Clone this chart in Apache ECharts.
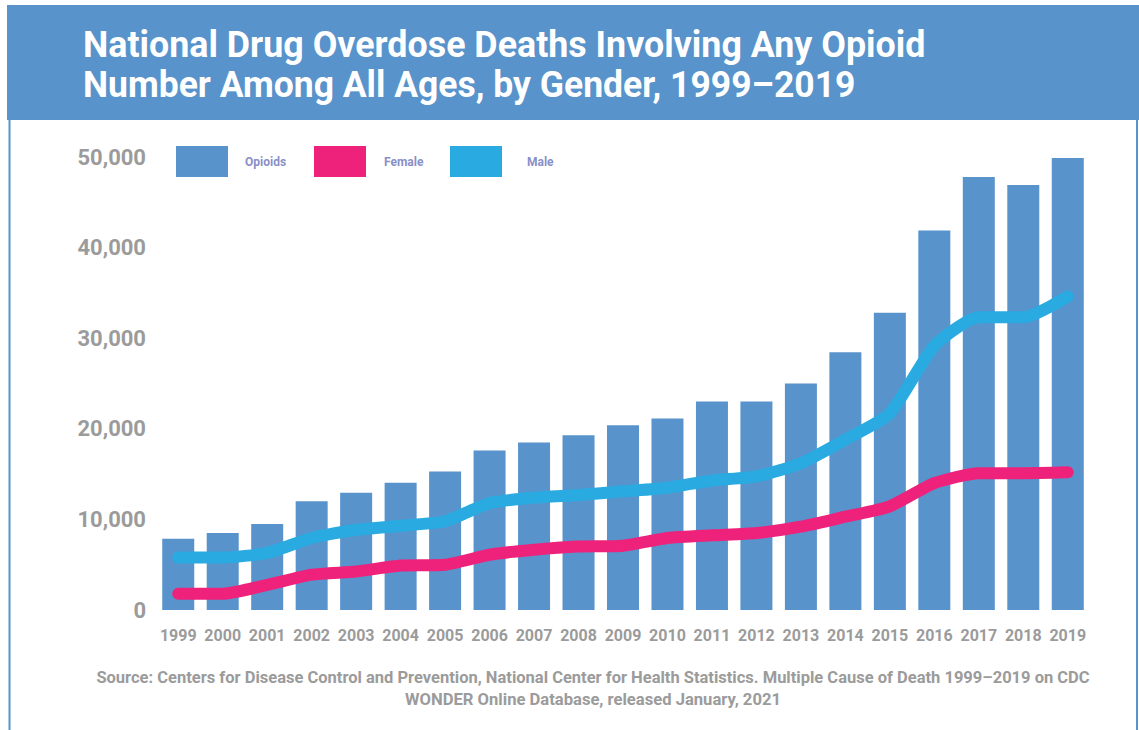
<!DOCTYPE html>
<html>
<head>
<meta charset="utf-8">
<script src="https://cdn.jsdelivr.net/npm/echarts@6/dist/echarts.min.js"></script>
<style>
html,body{margin:0;padding:0;background:#fff;}
#chart{width:1139px;height:730px;}
</style>
</head>
<body>
<div id="chart"></div>
<script>
const titleLines = ['National Drug Overdose Deaths Involving Any Opioid', 'Number Among All Ages, by Gender, 1999\u20132019'];
const sourceLines = ['Source: Centers for Disease Control and Prevention, National Center for Health Statistics. Multiple Cause of Death 1999\u20132019 on CDC', 'WONDER Online Database, released January, 2021'];
const years = ['1999','2000','2001','2002','2003','2004','2005','2006','2007','2008','2009','2010','2011','2012','2013','2014','2015','2016','2017','2018','2019'];
const opioids = [7860, 8500, 9500, 12000, 12950, 14050, 15300, 17600, 18500, 19300, 20400, 21150, 23000, 23000, 25000, 28450, 32800, 41900, 47800, 46900, 49900];
const female = [1800, 1800, 2770, 3900, 4250, 4900, 5000, 6100, 6650, 7000, 7100, 7950, 8250, 8500, 9200, 10300, 11450, 14000, 15100, 15100, 15200];
const male = [5800, 5800, 6300, 7950, 8850, 9300, 9800, 11800, 12400, 12700, 13100, 13500, 14300, 14750, 16200, 18800, 21700, 29150, 32300, 32300, 34600];
const yTicks = [0, 10000, 20000, 30000, 40000, 50000];

const BLUE = '#5893CB', PINK = '#EE227B', CYAN = '#29ABE2', GRAY = '#9B9B9B', LEG = '#8A8FC8';
const FONT = 'Roboto';

const chart = echarts.init(document.getElementById('chart'), null, {renderer: 'svg'});

function legendFor(name, left, pad) {
  return {
    data: [name], left: left, top: 146, padding: 0, orient: 'horizontal',
    icon: 'rect', itemWidth: 52, itemHeight: 31, selectedMode: false,
    textStyle: {color: LEG, fontFamily: FONT, fontWeight: 'bold', fontSize: 12, padding: [0, 0, 0, pad]}
  };
}

chart.setOption({
  animation: false,
  backgroundColor: '#fff',
  legend: [legendFor('Opioids', 176, 12), legendFor('Female', 314, 13), legendFor('Male', 450, 20)],
  grid: {left: 156, right: 49, top: 157, bottom: 120},
  xAxis: {
    type: 'category', data: years,
    axisLine: {show: false}, axisTick: {show: false},
    axisLabel: {color: GRAY, fontFamily: FONT, fontWeight: 'bold', fontSize: 16, margin: 17, interval: 0}
  },
  yAxis: {
    type: 'value', min: yTicks[0], max: yTicks[yTicks.length - 1], interval: yTicks[1] - yTicks[0],
    splitLine: {show: false}, axisLine: {show: false}, axisTick: {show: false},
    axisLabel: {color: GRAY, fontFamily: FONT, fontWeight: 'bold', fontSize: 22, margin: 10,
      padding: [0, 0, 4, 0],
      formatter: v => v.toLocaleString('en-US')}
  },
  series: [
    {name: 'Opioids', type: 'bar', data: opioids, barWidth: 32, itemStyle: {color: BLUE}},
    {name: 'Female', type: 'line', data: female, smooth: 0.2, symbol: 'none', z: 3,
      itemStyle: {color: PINK}, lineStyle: {color: PINK, width: 12, cap: 'round', join: 'round'}},
    {name: 'Male', type: 'line', data: male, smooth: 0.2, symbol: 'none', z: 3,
      itemStyle: {color: CYAN}, lineStyle: {color: CYAN, width: 12, cap: 'round', join: 'round'}}
  ],
  graphic: [
    {type: 'rect', shape: {x: 7, y: 5, width: 1132, height: 115}, style: {fill: BLUE}, z: -1},
    {type: 'rect', shape: {x: 8.5, y: 119, width: 2, height: 611}, style: {fill: BLUE}, z: -1},
    {type: 'rect', shape: {x: 1136, y: 119, width: 2, height: 611}, style: {fill: BLUE}, z: -1},
    {type: 'text', x: 83, y: 44, scaleX: 0.968, style: {text: titleLines[0], fill: '#fff', font: 'bold 37px ' + FONT, textVerticalAlign: 'middle'}},
    {type: 'text', x: 83, y: 84, scaleX: 0.96, style: {text: titleLines[1], fill: '#fff', font: 'bold 37px ' + FONT, textVerticalAlign: 'middle'}},
    {type: 'text', x: 593, y: 677, style: {text: sourceLines[0], fill: GRAY, font: 'bold 16.5px ' + FONT, textAlign: 'center', textVerticalAlign: 'middle'}},
    {type: 'text', x: 593, y: 699, style: {text: sourceLines[1], fill: GRAY, font: 'bold 16.6px ' + FONT, textAlign: 'center', textVerticalAlign: 'middle'}}
  ]
});
</script>
</body>
</html>
